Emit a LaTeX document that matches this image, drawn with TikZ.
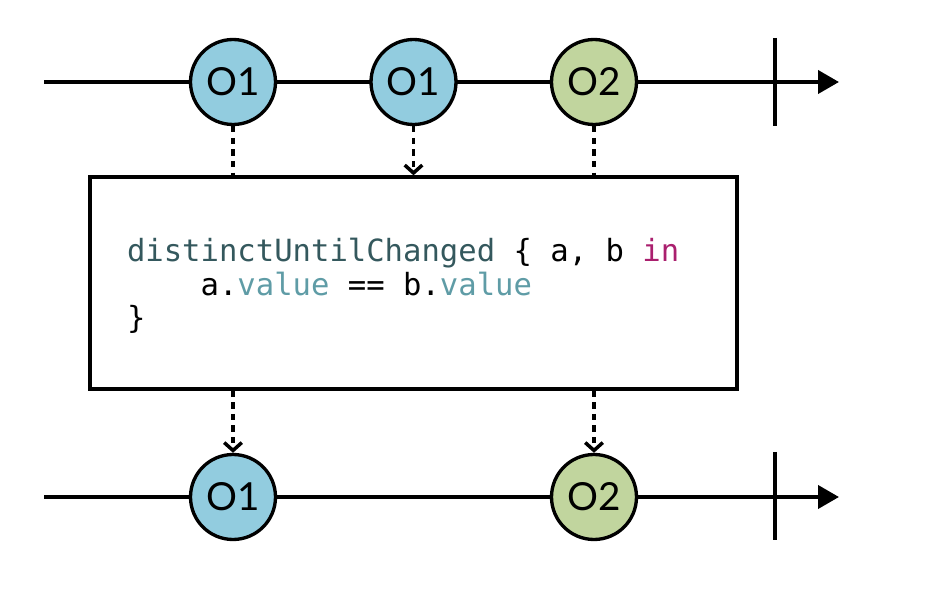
\documentclass[tikz,border=0pt]{standalone}
\usepackage{fontspec}
\setmonofont{DejaVu Sans Mono}
\newfontfamily\marblefont{Lato}
\usetikzlibrary{positioning, arrows.meta}

\definecolor{oneblue}{HTML}{92CCDF}
\definecolor{twogreen}{HTML}{C1D59E}
\definecolor{fnname}{HTML}{34585D}
\definecolor{keyword}{HTML}{AA1F6E}
\definecolor{prop}{HTML}{5F9CA6}

\begin{document}
\begin{tikzpicture}[node distance={3.61cm}, line width=2.3pt,
  marble/.style = {draw, circle, minimum size=1.7cm, inner sep=0pt, line width=1.9pt, font=\marblefont\fontsize{22}{24}\selectfont},
  blue/.style = {marble, fill=oneblue},
  green/.style = {marble, fill=twogreen},
  time/.style = {-{Triangle[length=0.42cm, width=0.46cm]}},
  dots/.style = {dash pattern=on 3.6pt off 3pt, line width=2pt},
  drop/.style = {dots, -{Straight Barb[length=4.5pt, width=10pt, line width=2pt]}}]
\useasboundingbox (0,0) rectangle (18.84,-11.84);

% timelines
\coordinate (tin) at (0.88,-1.64);
\coordinate (tout) at (16.78,-1.64);
\coordinate (bin) at (0.88,-9.94);
\coordinate (bout) at (16.78,-9.94);
\draw[time] (tin) -- (tout);
\draw[time] (bin) -- (bout);
\draw (15.5,-0.76) -- (15.5,-2.52);
\draw (15.5,-9.04) -- (15.5,-10.8);

% operator box
\node[draw, minimum width=12.94cm, minimum height=4.24cm, line width=1.9pt] (op) at (8.27,-5.66) {};
\node[anchor=west, inner sep=0pt, align=left, font=\ttfamily\fontsize{17.4}{19}\selectfont] (code) at (2.5,-5.72)
  {\textcolor{fnname}{distinctUntilChanged} \{ a, b \textcolor{keyword}{in}\\
   \phantom{a.va}a.\textcolor{prop}{value} == b.\textcolor{prop}{value}\\
   \}};

% marbles in
\node[blue] (a1) at (4.66,-1.64) {O1};
\node[blue] (a2) [right of=a1] {O1};
\node[green] (a3) [right of=a2] {O2};

% marbles out
\node[blue] (b1) at (4.66,-9.94) {O1};
\node[green] (b3) at (11.88,-9.94) {O2};

\draw[dots] (a1) -- (a1 |- op.north);
\draw[drop] (a2) -- (a2 |- op.north);
\draw[dots] (a3) -- (a3 |- op.north);
\draw[drop] (op.south -| b1) -- (b1);
\draw[drop] (op.south -| b3) -- (b3);
\end{tikzpicture}
\end{document}
